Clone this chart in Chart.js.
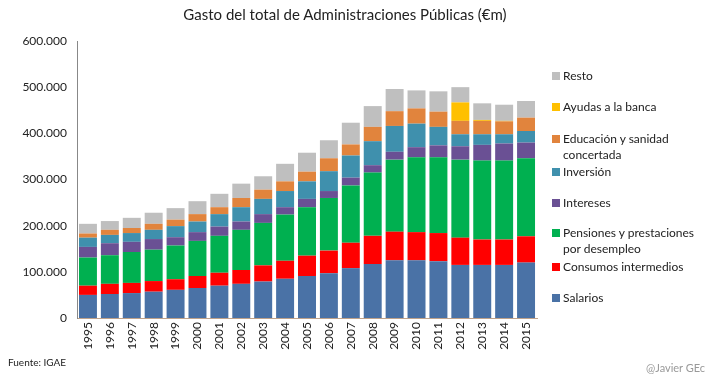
<!DOCTYPE html>
<html><head><meta charset="utf-8">
<script src="https://cdn.jsdelivr.net/npm/chart.js@4"></script>
<style>
html,body{margin:0;padding:0;background:#fff;}
#wrap{position:relative;width:717px;height:377px;font-family:Lato,"Open Sans",sans-serif;}
canvas{position:absolute;left:0;top:0;}
#title{position:absolute;left:0;width:690px;top:5px;text-align:center;font-size:15px;color:#222;}
#legend{position:absolute;left:552px;top:0;font-size:12px;color:#222;}
.li{position:absolute;white-space:nowrap;line-height:16px;}
.sw{display:inline-block;width:8px;height:8px;margin-right:3px;vertical-align:0px;}
#src{position:absolute;left:8px;top:356px;font-size:10px;color:#222;}
#sig{position:absolute;left:646px;top:361px;font-size:11px;color:#999;}
</style></head>
<body><div id="wrap">
<canvas id="c" width="717" height="377"></canvas>
<div id="title">Gasto del total de Administraciones Públicas (€m)</div>
<div id="legend"></div>
<div id="src">Fuente: IGAE</div>
<div id="sig">@Javier GEc</div>
</div>
<script>
const years = ["1995","1996","1997","1998","1999","2000","2001","2002","2003","2004","2005","2006","2007","2008","2009","2010","2011","2012","2013","2014","2015"];
const salarios   = [50000,52000,54000,57000,61000,65000,70000,74000,79000,85000,91000,97000,108000,117000,125000,125000,123000,115000,115000,115000,120000];
const consumos   = [20000,22000,22000,23000,23000,26000,28000,30000,35000,39000,44000,49000,55000,61000,62000,61000,61000,59000,55000,55000,57000];
const pensiones  = [61000,62000,67000,68000,73000,76000,80000,87000,92000,100000,105000,114000,124000,137000,156000,162000,164000,169000,171000,171000,169000];
const intereses  = [23000,26000,22000,23000,18000,19000,20000,18000,19000,16000,18000,15000,17000,16000,17000,22000,26000,29000,34000,37000,34000];
const inversion  = [20000,18000,19000,20000,24000,23000,27000,31000,33000,35000,38000,43000,48000,52000,56000,51000,40000,26000,23000,20000,25000];
const educacion  = [9000,11000,11000,13000,14000,16000,15000,20000,20000,21000,21000,28000,24000,31000,32000,33000,33000,29000,29000,28000,29000];
const ayudas     = [0,0,0,0,0,0,0,0,0,0,0,0,0,0,0,0,0,40000,2000,1000,0];
const resto      = [21000,19000,22000,24000,25000,28000,29000,31000,29000,38000,41000,39000,47000,45000,48000,39000,44000,33000,36000,35000,36000];
const yTicks = [0,100000,200000,300000,400000,500000,600000];

const series = [
  {label:"Salarios", data:salarios, color:"#4A72A6", ly:[298]},
  {label:"Consumos intermedios", data:consumos, color:"#FF0000", ly:[267]},
  {label:"Pensiones y prestaciones|por desempleo", data:pensiones, color:"#00B050", ly:[233]},
  {label:"Intereses", data:intereses, color:"#6A5094", ly:[203]},
  {label:"Inversión", data:inversion, color:"#3F90AD", ly:[172]},
  {label:"Educación y sanidad|concertada", data:educacion, color:"#E1843D", ly:[139]},
  {label:"Ayudas a la banca", data:ayudas, color:"#FFC000", ly:[107]},
  {label:"Resto", data:resto, color:"#BFBFBF", ly:[76]}
];

const leg = document.getElementById('legend');
series.forEach(s=>{
  const lines = s.label.split('|');
  const d = document.createElement('div');
  d.className='li';
  d.style.top=(s.ly[0]-8)+'px';
  d.innerHTML='<span class="sw" style="background:'+s.color+'"></span>'+lines[0]+(lines[1]?'<br><span style="margin-left:11px">'+lines[1]+'</span>':'');
  leg.appendChild(d);
});

const fmt = v => v.toString().replace(/\B(?=(\d{3})+(?!\d))/g,'.');

new Chart(document.getElementById('c'),{
  type:'bar',
  data:{labels:years,datasets:series.map(s=>({label:s.label.replace('|',' '),data:s.data,backgroundColor:s.color,borderWidth:0,categoryPercentage:1,barPercentage:0.82}))},
  options:{
    responsive:false,animation:false,
    layout:{padding:{left:0,right:180,top:41,bottom:0}},
    plugins:{legend:{display:false},tooltip:{enabled:false},title:{display:false}},
    scales:{
      x:{stacked:true,grid:{display:false,drawTicks:false},border:{color:"#BFA28A"},
         ticks:{minRotation:90,maxRotation:90,color:"#222",font:{family:"Lato",size:12},padding:4},
         afterFit:s=>{s.height=59;}},
      y:{stacked:true,min:0,max:600000,grid:{display:false,drawTicks:false},border:{color:"#888"},
         afterBuildTicks:s=>{s.ticks=yTicks.map(v=>({value:v}));},
         ticks:{callback:v=>fmt(v),color:"#222",font:{family:"Lato",size:12},padding:10},
         afterFit:s=>{s.width=77;}}
    }
  }
});
</script>
</body></html>
